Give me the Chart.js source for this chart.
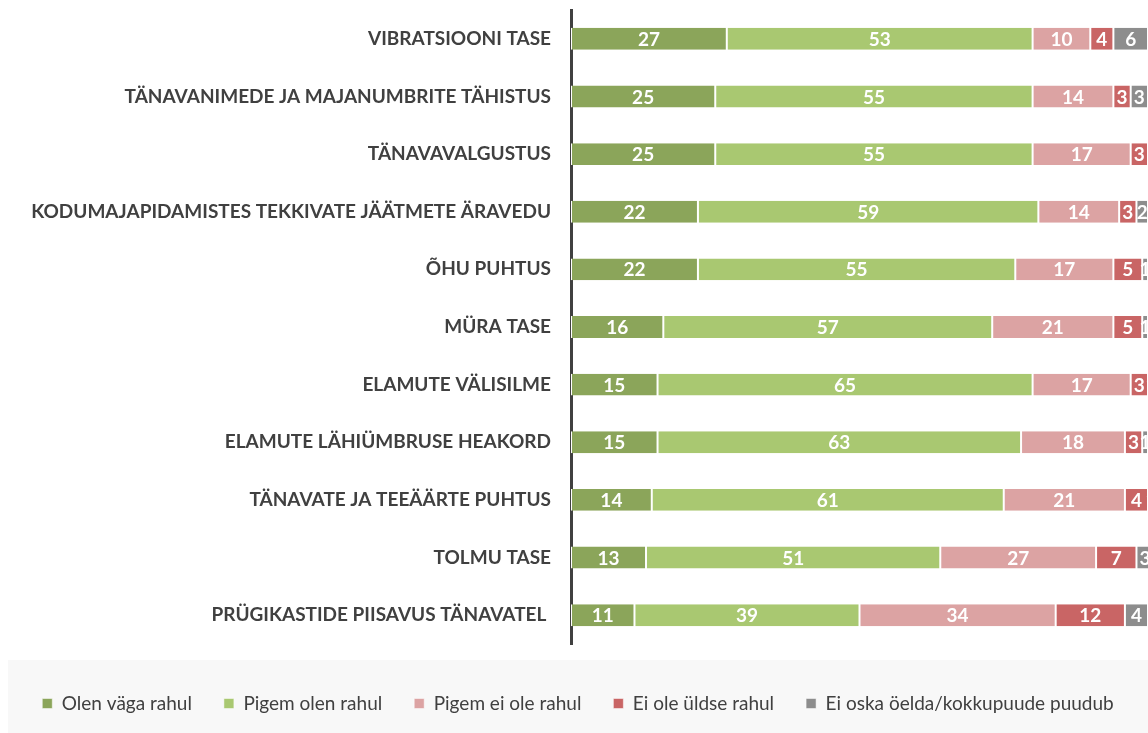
<!DOCTYPE html>
<html><head><meta charset="utf-8">
<script src="https://cdn.jsdelivr.net/npm/chart.js@4"></script>
<style>html,body{margin:0;padding:0;background:#fff;}#wrap{width:1148px;height:733px;}</style>
</head><body><div id="wrap"><canvas id="c" width="1148" height="733"></canvas></div>
<script>
const categories = [
  "VIBRATSIOONI TASE",
  "TÄNAVANIMEDE JA MAJANUMBRITE TÄHISTUS",
  "TÄNAVAVALGUSTUS",
  "KODUMAJAPIDAMISTES TEKKIVATE JÄÄTMETE ÄRAVEDU",
  "ÕHU PUHTUS",
  "MÜRA TASE",
  "ELAMUTE VÄLISILME",
  "ELAMUTE LÄHIÜMBRUSE HEAKORD",
  "TÄNAVATE JA TEEÄÄRTE PUHTUS",
  "TOLMU TASE",
  "PRÜGIKASTIDE PIISAVUS TÄNAVATEL "
];
const seriesNames = ["Olen väga rahul","Pigem olen rahul","Pigem ei ole rahul","Ei ole üldse rahul","Ei oska öelda/kokkupuude puudub"];
const olenVagaRahul   = [27,25,25,22,22,16,15,15,14,13,11];
const pigemOlenRahul  = [53,55,55,59,55,57,65,63,61,51,39];
const pigemEiOleRahul = [10,14,17,14,17,21,17,18,21,27,34];
const eiOleUldseRahul = [4,3,3,3,5,5,3,3,4,7,12];
const eiOskaOelda     = [6,3,0,2,1,1,1,1,1,3,4];
const colors = ["#8ba55a","#a9c871","#dca3a3","#c96565","#8d8d8d"];

const seriesValues = [olenVagaRahul,pigemOlenRahul,pigemEiOleRahul,eiOleUldseRahul,eiOskaOelda];
const LEFT_PAD = 8;

const valueLabels = {
  id:'valueLabels',
  afterDatasetsDraw(chart){
    const ctx = chart.ctx;
    ctx.save();
    ctx.font = "bold 19px Lato";
    ctx.fillStyle = "#fff";
    ctx.textAlign = "center";
    ctx.textBaseline = "middle";
    chart.data.datasets.forEach((ds,i)=>{
      const meta = chart.getDatasetMeta(i);
      meta.data.forEach((bar,j)=>{
        const v = ds.data[j];
        if(!v) return;
        ctx.fillText(String(v),(bar.x+bar.base)/2,bar.y+1);
      });
    });
    ctx.restore();
  }
};
const legendBg = {
  id:'legendBg',
  beforeDraw(chart){
    const ctx = chart.ctx;
    ctx.save();
    ctx.fillStyle = "#f8f8f8";
    ctx.fillRect(8,660,1140,73);
    ctx.restore();
  }
};

new Chart(document.getElementById('c'),{
  type:'bar',
  data:{
    labels:categories,
    datasets:seriesNames.map((n,i)=>({
      label:n,
      data:seriesValues[i],
      backgroundColor:colors[i],
      borderColor:"#ffffff",
      borderWidth:{left:1,right:1,top:0,bottom:0},
      borderSkipped:false,
      barPercentage:0.95,
      categoryPercentage:0.4
    }))
  },
  options:{
    indexAxis:'y',
    responsive:false,
    animation:false,
    layout:{padding:{top:10,right:0,left:LEFT_PAD,bottom:10}},
    scales:{
      x:{stacked:true,min:0,max:100,display:false},
      y:{
        stacked:true,
        grid:{display:false,drawTicks:false},
        border:{display:true,color:"#404040",width:3},
        ticks:{color:"#404040",font:{family:"Lato",size:19,weight:'bold'},padding:20},
        afterFit(s){s.width=571-LEFT_PAD;s.paddingTop=0;s.paddingBottom=0;}
      }
    },
    plugins:{
      legend:{
        position:'bottom',
        title:{display:true,text:' ',font:{size:1,lineHeight:1},padding:{top:17,bottom:0}},
        labels:{
          color:"#404040",
          font:{family:"Lato",size:19},
          boxWidth:10,boxHeight:10,padding:32
        }
      },
      tooltip:{enabled:false}
    }
  },
  plugins:[legendBg,valueLabels]
});
</script></body></html>
